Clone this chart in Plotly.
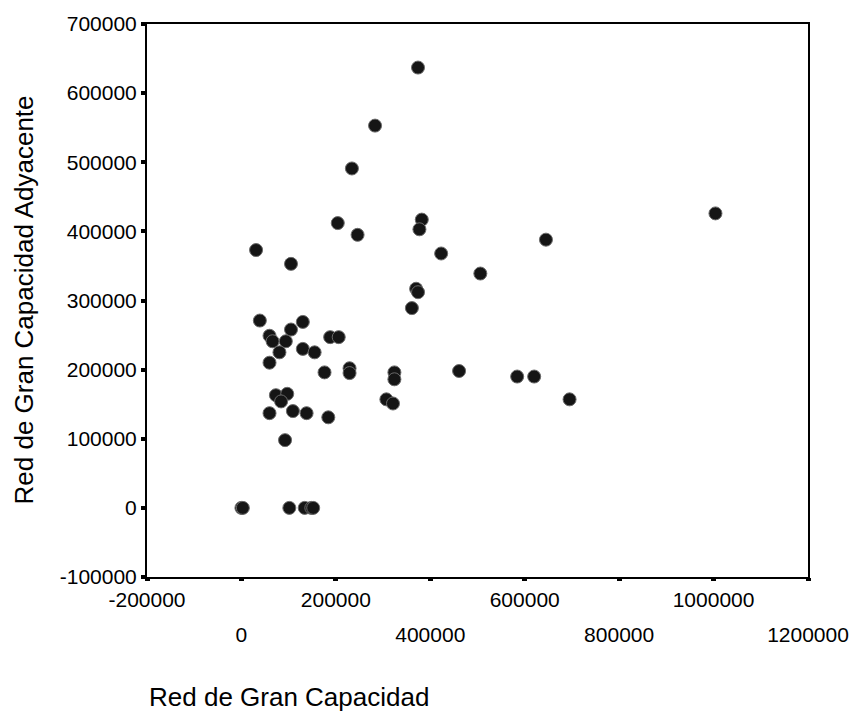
import plotly.graph_objects as go

# Data
red_gran_capacidad = [
    374000, 283000, 234000, 204000, 382000, 377000, 246000, 31000, 423000, 105000,
    506000, 370000, 374000, 361000, 39000, 130000, 105000, 59500, 66000, 94000,
    188000, 206000, 130000, 155000, 80500, 59500, 176000, 229000, 229000, 324000,
    324000, 461000, 584000, 620000, 695000, 1004000, 645000, 73000, 97000, 84000,
    307000, 321000, 59500, 109000, 138000, 184000, 92400, 0, 3000, 101500,
    134000, 148000, 152000,
]
red_adyacente = [
    637000, 553000, 491000, 412000, 417000, 403000, 395000, 373000, 368000, 353000,
    339000, 317000, 312000, 289000, 271000, 269000, 258000, 249000, 241000, 241000,
    247000, 247000, 230000, 225000, 225000, 210000, 196000, 202000, 195000, 196000,
    186000, 198000, 190000, 190000, 157000, 426000, 388000, 163000, 165000, 154000,
    157000, 151000, 137000, 140000, 137000, 131000, 98000, 0, 0, 0,
    0, 0, 0,
]

x_row1_vals = [-200000, 200000, 600000, 1000000]
x_row2_vals = [0, 400000, 800000, 1200000]
x_all_vals = [-200000, 0, 200000, 400000, 600000, 800000, 1000000, 1200000]
y_vals = [-100000, 0, 100000, 200000, 300000, 400000, 500000, 600000, 700000]

x_title = "Red de Gran Capacidad"
y_title = "Red de Gran Capacidad Adyacente"

FONT = "Liberation Sans, Arial, sans-serif"

fig = go.Figure()
fig.add_trace(go.Scatter(
    x=red_gran_capacidad, y=red_adyacente, mode="markers",
    marker=dict(symbol="circle", size=13, color="#151515",
                line=dict(color="#6a6a6a", width=1)),
    showlegend=False, hoverinfo="x+y",
))
# invisible trace to carry the second label row axis
fig.add_trace(go.Scatter(x=[x_all_vals[0]], y=[y_vals[0]], xaxis="x2",
                         mode="markers", marker=dict(opacity=0),
                         showlegend=False, hoverinfo="skip"))

fig.update_layout(
    width=861, height=716,
    margin=dict(l=147, r=48, t=18, b=139),
    paper_bgcolor="white", plot_bgcolor="white",
    font=dict(family=FONT, color="black", size=21),
    xaxis=dict(
        range=[-200000, 1200000], tickmode="array", tickvals=x_row1_vals,
        ticktext=[str(v) for v in x_row1_vals],
        showgrid=False, zeroline=False,
        showline=True, linecolor="black", linewidth=2, mirror=True,
        ticks="", tickfont=dict(size=21), ticklabelstandoff=3,
        ticklabeloverflow="allow",
    ),
    xaxis2=dict(
        range=[-200000, 1200000], overlaying="x", matches="x", side="bottom",
        tickmode="array", tickvals=x_all_vals,
        ticktext=["" if v in x_row1_vals else str(v) for v in x_all_vals],
        showgrid=False, zeroline=False, showline=False,
        ticks="outside", ticklen=3, tickwidth=5, tickcolor="black",
        tickfont=dict(size=21), ticklabelstandoff=36,
        ticklabeloverflow="allow",
    ),
    yaxis=dict(
        range=[-100000, 700000], tickmode="array", tickvals=y_vals,
        ticktext=[str(v) for v in y_vals],
        showgrid=False, zeroline=False,
        showline=True, linecolor="black", linewidth=2, mirror=True,
        ticks="outside", ticklen=4, tickwidth=4, tickcolor="black",
        tickfont=dict(size=21), ticklabelstandoff=0,
    ),
    annotations=[
        dict(text=x_title, xref="paper", yref="paper", x=0, y=0,
             xanchor="left", yanchor="middle", yshift=-120, showarrow=False,
             font=dict(size=26)),
        dict(text=y_title, xref="paper", yref="paper", x=0, y=0.5,
             xanchor="center", yanchor="middle", xshift=-124, textangle=-90,
             showarrow=False, font=dict(size=26)),
    ],
)

fig.write_html(
    "out.html",
    config={"displayModeBar": False},
    post_script="document.body.style.margin='0';document.body.style.overflow='hidden';",
)
